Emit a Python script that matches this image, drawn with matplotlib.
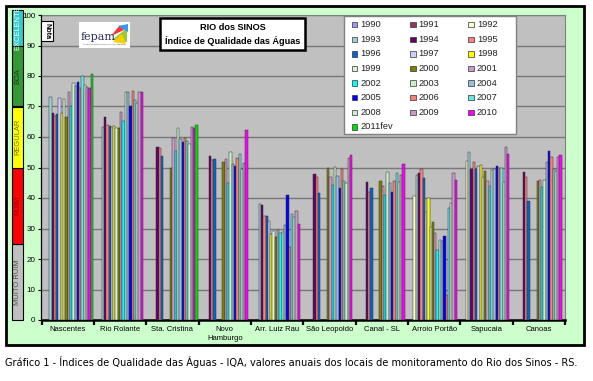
import numpy as np
import matplotlib
matplotlib.use("Agg")
import matplotlib.pyplot as plt
import matplotlib.transforms as mtransforms
from matplotlib.patches import Rectangle, Polygon

nan = np.nan

# ---------------- data ----------------
locations = ["Nascentes", "Rio Rolante", "Sta. Cristina", "Novo\nHamburgo", "Arr. Luiz Rau",
             "São Leopoldo", "Canal - SL", "Arroio Portão", "Sapucaia", "Canoas"]
series_labels = [str(y) for y in range(1990, 2011)] + ["2011fev"]

nascentes     = [nan, nan, nan, 73.2, 67.8, 66.9, 67.4, 72.7, 67.8, 72.5, 66.7, 74.9, 70.3, 77.6, 76.8, 77.9, 76.2, 80.1, 77.0, 76.5, 76.2, 80.6]
rio_rolante   = [nan, nan, nan, 63.4, 66.7, 63.9, 63.6, 63.4, 63.5, 63.0, 62.8, 68.3, 65.2, 74.6, 74.6, 70.3, 75.1, 72.1, 71.0, 74.9, 74.9, nan]
sta_cristina  = [nan, nan, nan, nan, 56.8, 56.3, 53.8, nan, nan, nan, 49.7, 59.6, 55.4, 62.8, 59.3, 58.5, 59.6, 58.8, 57.6, 63.2, 63.1, 63.9]
novo_hamburgo = [nan, nan, nan, nan, 53.9, 52.6, 52.8, nan, nan, nan, 51.9, 52.7, 44.8, 55.0, 51.3, 50.6, 53.0, 54.5, 49.5, 51.4, 62.3, nan]
luiz_rau      = [nan, nan, nan, 38.0, 37.8, 34.1, 34.1, 32.3, 28.1, 29.2, 27.1, 29.6, 28.6, 29.0, 31.1, 41.1, 24.0, 34.6, 33.9, 35.9, 31.5, nan]
sao_leopoldo  = [nan, nan, nan, nan, 47.8, 47.0, 41.7, nan, nan, nan, 49.7, 46.8, 44.3, 50.1, 47.3, 43.4, 49.4, 45.6, 45.0, 53.0, 54.1, nan]
canal_sl      = [nan, nan, nan, nan, 45.1, 42.1, 43.4, nan, nan, nan, 45.7, 44.0, 41.0, 48.6, 44.8, 42.0, 45.7, 48.1, 45.4, 47.5, 51.1, nan]
arroio_portao = [nan, nan, 40.7, 47.5, 48.1, 49.5, 46.5, 35.5, 40.0, 30.6, 32.0, 28.4, 23.0, 26.2, 25.8, 27.5, 8.2, 36.8, 38.5, 48.3, 45.8, nan]
sapucaia      = [nan, nan, 52.1, 55.2, 49.6, 51.9, 49.4, 50.4, 50.7, 47.0, 49.0, 45.5, 44.0, 49.2, 49.5, 50.6, 49.7, 49.9, 45.4, 56.8, 54.3, nan]
canoas        = [nan, nan, nan, nan, 48.6, 46.8, 39.0, nan, nan, nan, 45.6, 45.9, 43.7, 45.9, 51.9, 55.5, 53.5, 49.5, 49.0, 53.5, 54.0, nan]

ytick_values = list(range(0, 101, 10))
bands = [(0, 25, "MUITO RUIM"), (25, 50, "RUIM"), (50, 70, "REGULAR"), (70, 90, "BOA"), (90, 101.8, "EXCELENTE")]

# ---------------- styles ----------------
series_colors = ["#9999FF", "#993366", "#FFFFCC", "#99D6D6", "#660066", "#FF8080", "#0066CC", "#CCCCFF",
                 "#FFFF00", "#D9F2D0", "#808000", "#CC99CC", "#00FFFF", "#C8F0C8", "#99BBE6", "#0000FF",
                 "#FF7F6F", "#66E6E6", "#CCF2CC", "#CC99CC", "#FF00FF", "#00E000"]
band_colors = ["#C0C0C0", "#FF0000", "#FFFF00", "#339933", "#33CCCC"]
band_text_colors = ["#505050", "#8B0000", "#6B6B00", "#1a3a1a", "#F0FFFF"]

W, H = 593, 381
def fx(px):
    return px / W
def fy(py):
    return 1 - py / H

plt.rcParams['font.family'] = ['Liberation Sans', 'DejaVu Sans']

fig = plt.figure(figsize=(W / 100, H / 100), dpi=100)
fig.patch.set_facecolor("white")

# outer chart frame
frame = Rectangle((fx(6), fy(345)), fx(584) - fx(6), fy(6) - fy(345), transform=fig.transFigure,
                  facecolor="#CCFFCC", edgecolor="black", linewidth=2.0, zorder=-10)
fig.patches.append(frame)

ax = fig.add_axes([fx(41.5), fy(320), fx(565) - fx(41.5), fy(15) - fy(320)])
ax.set_facecolor("#C0C0C0")

data = np.array([nascentes, rio_rolante, sta_cristina, novo_hamburgo, luiz_rau,
                 sao_leopoldo, canal_sl, arroio_portao, sapucaia, canoas], dtype=float)
n_loc, n_ser = data.shape
gap = 0.035
w = (1 - gap) / n_ser
xc = np.arange(n_loc)
for j in range(n_ser):
    ax.bar(xc + (j - (n_ser - 1) / 2) * w, data[:, j], width=w, color=series_colors[j],
           edgecolor="#333333", linewidth=0.35, label=series_labels[j], zorder=3)

ax.set_xlim(-0.5, n_loc - 0.5)
ax.set_ylim(0, 100)
ax.set_yticks(ytick_values)
ax.set_yticklabels([str(v) for v in ytick_values], fontsize=5.8)
ax.yaxis.grid(True, color="#787878", linewidth=1.0, zorder=0)
ax.set_axisbelow(True)
ax.tick_params(axis="y", length=2.5, width=0.8, pad=2, direction="out")

ax.set_xticks(xc)
ax.set_xticklabels(locations, fontsize=5.5, linespacing=1.5)
ax.set_xticks(np.arange(-0.5, n_loc, 1.0), minor=True)
ax.tick_params(axis="x", which="major", length=0, pad=4)
ax.tick_params(axis="x", which="minor", length=3.5, width=1.6, direction="out")

ax.spines["bottom"].set_linewidth(1.8)
ax.spines["left"].set_linewidth(0.9)
for s in ("top", "right"):
    ax.spines[s].set_color("#808080")
    ax.spines[s].set_linewidth(0.8)

# quality band column on the left
btrans = mtransforms.blended_transform_factory(fig.transFigure, ax.transData)
for (lo, hi, name), c, tc in zip(bands, band_colors, band_text_colors):
    r = Rectangle((fx(11.7), lo), fx(22.7) - fx(11.7), hi - lo, transform=btrans,
                  facecolor=c, edgecolor="black", linewidth=0.8, clip_on=False, zorder=4)
    fig.patches.append(r)
    fig.text(fx(17.4), (lo + hi) / 2, name, transform=btrans, rotation=90, ha="center", va="center",
             fontsize=5.4, color=tc, zorder=5)

# "Nota" label
fig.patches.append(Rectangle((fx(41), fy(41)), fx(53) - fx(41), fy(21) - fy(41), transform=fig.transFigure,
                             facecolor="white", edgecolor="black", linewidth=0.8, zorder=6))
fig.text(fx(47), fy(31), "Nota", rotation=270, ha="center", va="center", fontsize=5.2,
         fontweight="bold", zorder=7)

# fepam logo box
fig.patches.append(Rectangle((fx(79), fy(48)), fx(130) - fx(79), fy(22) - fy(48), transform=fig.transFigure,
                             facecolor="white", edgecolor="none", zorder=6))
fig.text(fx(81), fy(37), "fepam", family="DejaVu Serif", fontsize=8, color="#2b2b5a", ha="left",
         va="center", zorder=7)
fig.text(fx(83), fy(44), "Fundação Estadual de Proteção Ambiental", fontsize=1.6, color="#555555",
         ha="left", va="center", zorder=7)
for pts, c in [([(112, 40), (127, 28), (127, 42)], "#99CC33"),
               ([(111, 36), (120, 25), (124, 30)], "#FF3333"),
               ([(118, 26), (128, 24), (128, 32)], "#3399FF"),
               ([(113, 42), (122, 34), (126, 44)], "#FFCC00")]:
    fig.patches.append(Polygon([(fx(a), fy(b)) for a, b in pts], closed=True, transform=fig.transFigure,
                               facecolor=c, edgecolor="none", zorder=7))

# title box
fig.patches.append(Rectangle((fx(160), fy(50)), fx(305) - fx(160), fy(18) - fy(50), transform=fig.transFigure,
                             facecolor="white", edgecolor="black", linewidth=1.8, zorder=6))
fig.text(fx(232.5), fy(28), "RIO dos SINOS", ha="center", va="center", fontsize=6.6,
         fontweight="bold", zorder=7)
fig.text(fx(232.5), fy(40.5), "Índice de Qualidade das Águas", ha="center", va="center",
         fontsize=6.6, fontweight="bold", zorder=7)

# legend (Excel style, row-major, equal column widths)
fig.patches.append(Rectangle((fx(344), fy(134)), fx(515.7) - fx(344), fy(16) - fy(134),
                             transform=fig.transFigure, facecolor="white", edgecolor="#808080",
                             linewidth=1.0, zorder=8))
for k, lab in enumerate(series_labels):
    row, col = divmod(k, 3)
    mx = 352 + col * 58.2
    my = 24.7 + row * 14.6
    fig.patches.append(Rectangle((fx(mx), fy(my + 2.7)), fx(5.4), 5.4 / H, transform=fig.transFigure,
                                 facecolor=series_colors[k], edgecolor="#333333", linewidth=0.5, zorder=9))
    fig.text(fx(mx + 8.5), fy(my), lab, ha="left", va="center", fontsize=6.7, color="#222222", zorder=9)

# caption
fig.text(fx(5), fy(362), "Gráfico 1 - Índices de Qualidade das Águas - IQA, valores anuais dos locais de "
         "monitoramento do Rio dos Sinos - RS.", ha="left", va="center", fontsize=7.8,
         family=["DejaVu Sans"], fontstretch="condensed")

fig.savefig("out.png", dpi=100)
